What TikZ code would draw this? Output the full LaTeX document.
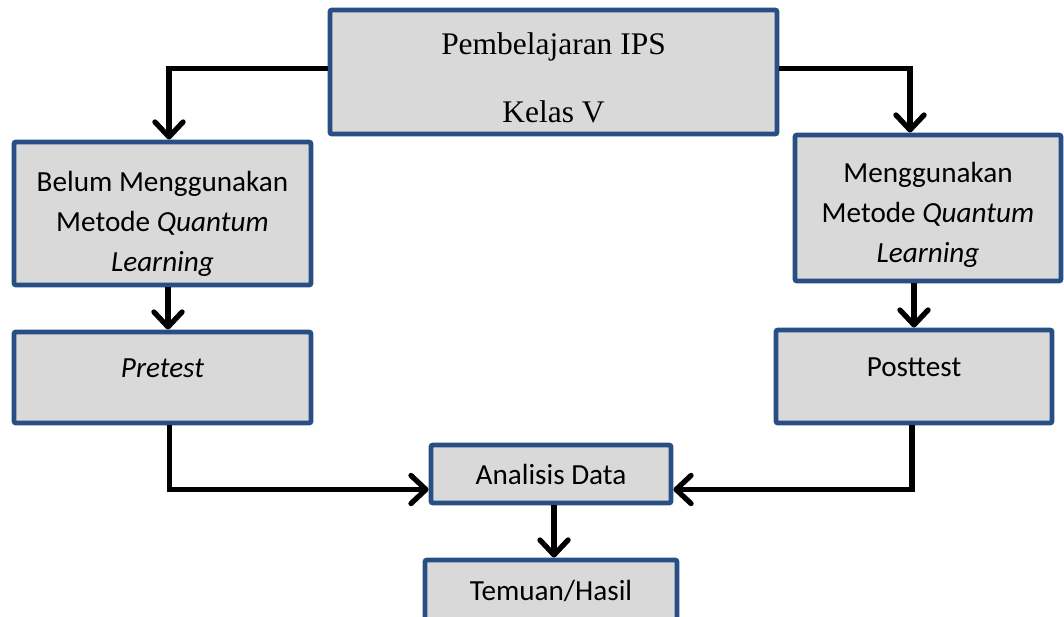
\documentclass[tikz,border=0pt]{standalone}
\usepackage{fontspec}
\setmainfont{Carlito}
\newfontfamily\timesfont{Liberation Serif}
\usetikzlibrary{arrows.meta}
\definecolor{boxblue}{RGB}{39,79,132}
\definecolor{boxgray}{RGB}{217,217,217}

\begin{document}
\begin{tikzpicture}[
  box/.style={draw=boxblue, line width=2.8pt, fill=boxgray, rounded corners=1.2pt,
    align=center, inner sep=0pt, font=\fontsize{16.6pt}{22.7pt}\selectfont},
  link/.style={line width=3pt, -{Straight Barb[length=8.5pt,width=16pt,round]}}
]
\useasboundingbox (0,0) rectangle (21.28,-12.32);

% the rules push the first line down a little
\node[box, minimum width=8.94cm, minimum height=2.48cm,
  font=\timesfont\fontsize{17.9pt}{39pt}\selectfont] (ips) at (11.07,-1.44)
  {\rule{0pt}{19pt}Pembelajaran IPS\\Kelas V};
\node[box, minimum width=5.94cm, minimum height=2.86cm] (belum) at (3.25,-4.27)
  {\rule{0pt}{23pt}Belum Menggunakan\\Metode \textit{Quantum}\\\textit{Learning}};
\node[box, minimum width=5.32cm, minimum height=2.92cm] (pakai) at (18.56,-4.16)
  {\rule{0pt}{19.5pt}Menggunakan\\Metode \textit{Quantum}\\\textit{Learning}};
\node[box, minimum width=5.94cm, minimum height=1.82cm, text height=11pt, text depth=11.4pt] (pre) at (3.25,-7.55) {\textit{Pretest}};
\node[box, minimum width=5.52cm, minimum height=1.86cm, text height=11pt, text depth=11.4pt] (post) at (18.28,-7.53) {Posttest};
\node[box, minimum width=4.8cm, minimum height=1.16cm] (analisis) at (11.02,-9.48) {Analisis Data};
\node[box, minimum width=5.04cm, minimum height=1.24cm] (hasil) at (11.02,-11.82) {Temuan/Hasil};

% branches from the top box
\draw[link] ([yshift=0.07cm]ips.west) -| ([xshift=0.13cm]belum.north);
\draw[link] ([yshift=0.07cm]ips.east) -| ([xshift=-0.36cm]pakai.north);

\draw[link] ([xshift=0.11cm]belum.south) -- ([xshift=0.11cm]pre.north);
\draw[link] (post.north |- pakai.south) -- (post.north);

% both tests into the analysis
\draw[link] ([xshift=0.14cm]pre.south) |- ([yshift=-0.31cm]analisis.west);
\draw[link] ([xshift=-0.04cm]post.south) |- ([yshift=-0.31cm]analisis.east);

\draw[link] ([xshift=0.06cm]analisis.south) -- ([xshift=0.06cm]hasil.north);
\end{tikzpicture}
\end{document}
